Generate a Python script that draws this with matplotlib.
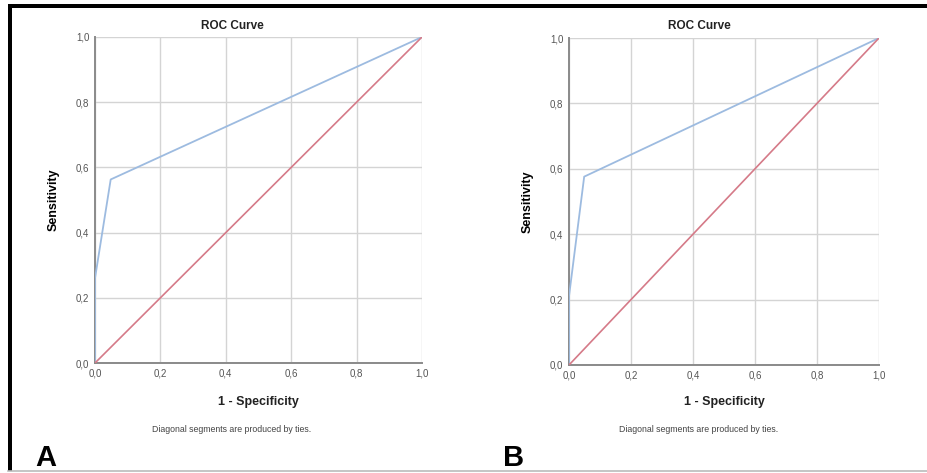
import matplotlib
matplotlib.use("Agg")
import matplotlib.pyplot as plt
from matplotlib.patches import Rectangle
from matplotlib.lines import Line2D

plt.rcParams['font.family'] = ['Liberation Sans', 'DejaVu Sans']

# ROC points (1 - specificity, sensitivity)
fpr_a = [0.0, 0.0, 0.048, 1.0]
tpr_a = [0.0, 0.26, 0.563, 1.0]
fpr_b = [0.0, 0.0, 0.049, 1.0]
tpr_b = [0.0, 0.21, 0.576, 1.0]
ref_line = [0.0, 1.0]
tick_vals = [0.0, 0.2, 0.4, 0.6, 0.8, 1.0]
tick_labels = ["0,0", "0,2", "0,4", "0,6", "0,8", "1,0"]

W, H = 928, 473
fig = plt.figure(figsize=(W / 100, H / 100), dpi=100)
fig.patch.set_facecolor("white")


def px_axes(x0, y0, x1, y1):
    # pixel box (top-left origin) -> axes
    return fig.add_axes([x0 / W, 1 - y1 / H, (x1 - x0) / W, (y1 - y0) / H])


def ftext(x, y, s, **kw):
    fig.text(x / W, 1 - y / H, s, **kw)


def roc_panel(box, fpr, tpr, title_x, label_x, letter, letter_x):
    ax = px_axes(*box)
    ax.plot(fpr, tpr, color="#9dbbe0", lw=1.3, zorder=3)
    ax.plot(ref_line, ref_line, color="#d57a88", lw=1.2, zorder=4)
    ax.set_xlim(0, 1)
    ax.set_ylim(0, 1)
    ax.set_xticks(tick_vals)
    ax.set_yticks(tick_vals)
    ax.set_xticklabels(tick_labels)
    ax.set_yticklabels(tick_labels)
    ax.tick_params(length=0, labelsize=7, colors="#555555", pad=4)
    ax.grid(True, color="#d4d4d4", lw=1.0)
    ax.set_axisbelow(True)
    for s in ["top", "right"]:
        ax.spines[s].set_visible(False)
    for s in ["left", "bottom"]:
        ax.spines[s].set_color("#8a8a8a")
        ax.spines[s].set_linewidth(1.4)
    ax.set_ylabel("Sensitivity", fontsize=9, fontweight="bold", labelpad=12)

    ftext(title_x, 26, "ROC Curve", ha="center", va="center",
          fontsize=8.5, fontweight="bold", color="#222222")
    ftext(label_x, 402, "1 - Specificity", ha="center", va="center",
          fontsize=9, fontweight="bold", color="#222222")
    ftext(title_x, 429, "Diagonal segments are produced by ties.",
          ha="center", va="center", fontsize=6.3, color="#444444")
    ftext(letter_x, 466, letter, ha="left", va="baseline",
          fontsize=21, fontweight="bold", color="black")
    return ax


roc_panel((95, 37, 422, 363), fpr_a, tpr_a, 232, 258, "A", 35)
roc_panel((569, 38, 879, 365), fpr_b, tpr_b, 699, 724, "B", 503)

# frame around the figure
fig.add_artist(Rectangle((8 / W, 1 - 8.5 / H), 1, 4 / H, transform=fig.transFigure,
                         color="black", lw=0))
fig.add_artist(Rectangle((8 / W, 1 - 471 / H), 3.5 / W, 466 / H, transform=fig.transFigure,
                         color="black", lw=0))
fig.add_artist(Line2D([8 / W, 1], [1 - 471 / H, 1 - 471 / H], transform=fig.transFigure,
                      color="#bbbbbb", lw=1.2))

fig.savefig("out.png", dpi=100)
